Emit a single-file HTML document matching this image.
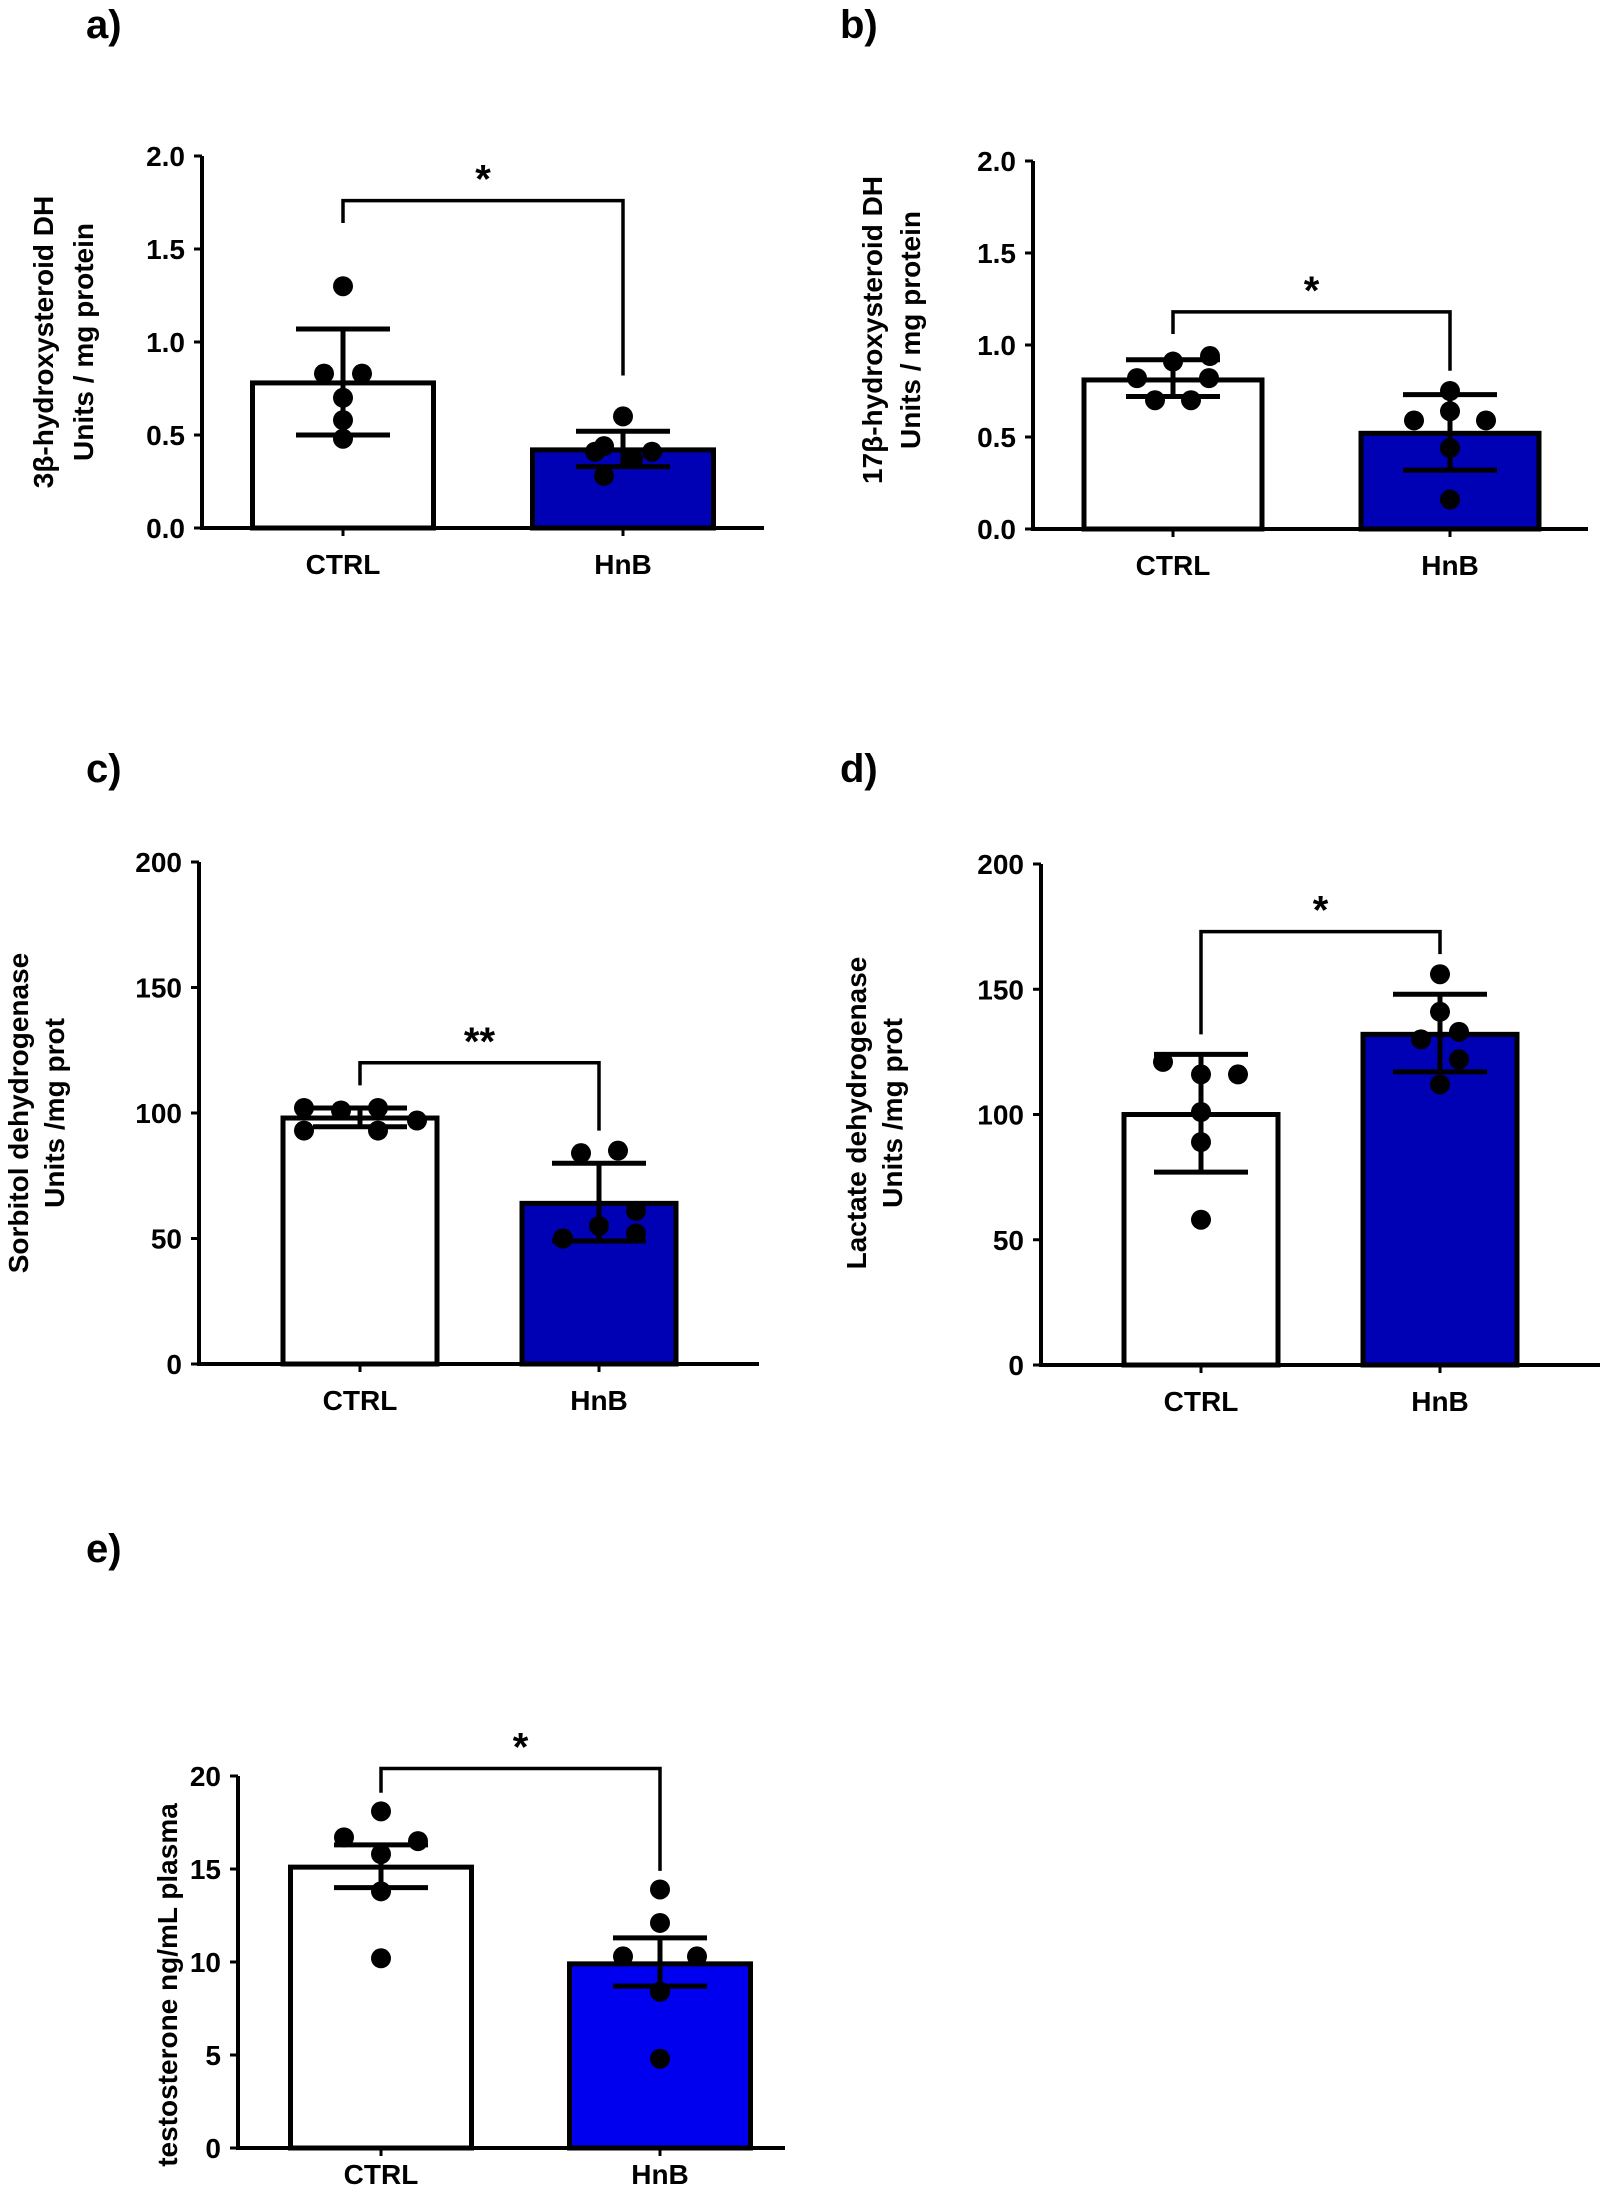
<!DOCTYPE html>
<html><head><meta charset="utf-8"><style>
html,body{margin:0;padding:0;background:#fff;}
svg{display:block;font-family:"Liberation Sans",Arial,sans-serif;font-weight:bold;}
</style></head><body>
<svg id="fig" width="1600" height="2191" viewBox="0 0 1600 2191" xmlns="http://www.w3.org/2000/svg"></svg>
<script>
// ---- data ----
const categories = ["CTRL", "HnB"];
const aMeans = [0.78, 0.42];
const aErrLo = [0.50, 0.33];
const aErrHi = [1.07, 0.52];
const aCtrlPts = [1.30, 0.83, 0.83, 0.70, 0.58, 0.48];
const aHnbPts = [0.60, 0.44, 0.41, 0.41, 0.37, 0.28];
const aTicks = ["0.0", "0.5", "1.0", "1.5", "2.0"];
const aBracket = [1.76, 1.64, 0.82];

const bMeans = [0.81, 0.52];
const bErrLo = [0.72, 0.32];
const bErrHi = [0.92, 0.73];
const bCtrlPts = [0.94, 0.91, 0.82, 0.82, 0.70, 0.70];
const bHnbPts = [0.75, 0.64, 0.59, 0.59, 0.44, 0.16];
const bTicks = ["0.0", "0.5", "1.0", "1.5", "2.0"];
const bBracket = [1.18, 1.06, 0.86];

const cMeans = [98, 64];
const cErrLo = [94.5, 49];
const cErrHi = [102, 80];
const cCtrlPts = [102, 101, 102, 97, 93, 93];
const cHnbPts = [84, 85, 61, 55, 52, 50];
const cTicks = ["0", "50", "100", "150", "200"];
const cBracket = [120, 111, 93];

const dMeans = [100, 132];
const dErrLo = [77, 117];
const dErrHi = [124, 148];
const dCtrlPts = [121, 116, 116, 101, 89, 58];
const dHnbPts = [156, 141, 133, 130, 122, 112];
const dTicks = ["0", "50", "100", "150", "200"];
const dBracket = [173, 132, 164];

const eMeans = [15.1, 9.9];
const eErrLo = [14.0, 8.7];
const eErrHi = [16.3, 11.3];
const eCtrlPts = [18.1, 16.7, 16.5, 15.8, 13.8, 10.2];
const eHnbPts = [13.9, 12.1, 10.3, 10.3, 8.4, 4.8];
const eTicks = ["0", "5", "10", "15", "20"];
const eBracket = [20.4, 19.1, 14.9];

// ---- layout (jitter offsets in px; not data) ----
const aCtrlJit = [0, -19, 19, 0, 0, 0], aHnbJit = [0, -19, -28, 29, 10, -19];
const bCtrlJit = [37, 0, -36, 36, -18, 18], bHnbJit = [0, 0, -36, 36, 0, 0];
const cCtrlJit = [-56, -19, 18, 57, -56, 18], cHnbJit = [-18, 19, 37, 0, 37, -36];
const dCtrlJit = [-38, 0, 37, 0, 0, 0], dHnbJit = [0, 0, 19, -19, 19, 0];
const eCtrlJit = [0, -37, 37, 0, 0, 0], eHnbJit = [0, 0, -37, 37, 0, 0];

const NS = "http://www.w3.org/2000/svg";
const svg = document.getElementById("fig");
function mk(tag, attrs, parent, text) {
  const el = document.createElementNS(NS, tag);
  for (const k in attrs) el.setAttribute(k, attrs[k]);
  if (text !== undefined) el.textContent = text;
  (parent || svg).appendChild(el);
  return el;
}

function panel(p) {
  const g = mk("g", {});
  
  
  const vmax = parseFloat(p.ticks[p.ticks.length - 1]);
  const y = v => p.y0 - (v / vmax) * (p.y0 - p.yTop);
  const lbl = mk("text", {x: p.labX, y: p.labY, "font-size": 40}, g, p.id + ")");
  
  
  // title lines (each centered at given x)
  p.title.forEach((line, i) => {
    const bx = p.titleXs[i] + 10;
    const tt = mk("text", {transform: `translate(${bx},${p.titleY}) rotate(-90)`, "text-anchor": "middle", "font-size": 28}, g, line);
    
    
  });
  // bars
  p.means.forEach((m, i) => {
    const cx = p.cx[i];
    const r = mk("rect", {x: cx - p.bw / 2, y: y(m), width: p.bw, height: p.y0 - y(m), fill: i === 0 ? "#fff" : p.blue, stroke: "#000", "stroke-width": 5}, g);
    
    
  });
  // points
  [p.ctrl, p.hnb].forEach((pts, i) => {
    const jit = i === 0 ? p.cj : p.hj;
    pts.forEach((v, k) => {
      const c = mk("circle", {cx: p.cx[i] + jit[k], cy: y(v), r: 10, fill: "#000"}, g);
      
      
    });
  });
  // error bars
  p.means.forEach((m, i) => {
    const cx = p.cx[i];
    const eb = mk("path", {d: `M${cx},${y(p.lo[i])}V${y(p.hi[i])}M${cx - 47},${y(p.lo[i])}H${cx + 47}M${cx - 47},${y(p.hi[i])}H${cx + 47}`, stroke: "#000", "stroke-width": 5, fill: "none"}, g);
    
    
  });
  // axes
  const ax = mk("path", {d: `M${p.axX},${p.yTop}V${p.y0}M${p.axX - 2},${p.y0}H${p.axR}`, stroke: "#000", "stroke-width": 4, fill: "none"}, g);
  
  
  p.ticks.forEach(t => {
    const ty = y(parseFloat(t));
    mk("path", {d: `M${p.axX - 8},${ty}H${p.axX}`, stroke: "#000", "stroke-width": 3}, g);
    const tl = mk("text", {x: p.axX - 17, y: ty + 10, "text-anchor": "end", "font-size": 28}, g, t);
    
    
  });
  categories.forEach((c, i) => {
    mk("path", {d: `M${p.cx[i]},${p.y0}V${p.y0 + 8}`, stroke: "#000", "stroke-width": 3}, g);
    const xl = mk("text", {x: p.cx[i], y: p.y0 + p.xlOff, "text-anchor": "middle", "font-size": 28}, g, c);
    
    
  });
  // bracket
  const [top, l, r] = p.br;
  const bk = mk("path", {d: `M${p.cx[0]},${y(l)}V${y(top)}H${p.cx[1]}V${y(r)}`, stroke: "#000", "stroke-width": 3.5, fill: "none"}, g);
  
  
  const st = mk("text", {x: (p.cx[0] + p.cx[1]) / 2, y: y(top) - 8, "text-anchor": "middle", "font-size": 40}, g, p.star);
  
  
}

panel({id: "a", means: aMeans, lo: aErrLo, hi: aErrHi, ctrl: aCtrlPts, hnb: aHnbPts, ticks: aTicks, br: aBracket, cj: aCtrlJit, hj: aHnbJit,
  star: "*", blue: "#0000b4", axX: 202, axR: 764, yTop: 156, y0: 528, cx: [343, 623], bw: 181, xlOff: 46,
  labX: 86, labY: 38, titleXs: [43, 83], titleY: 342, title: ["3β-hydroxysteroid DH", "Units / mg protein"]});
panel({id: "b", means: bMeans, lo: bErrLo, hi: bErrHi, ctrl: bCtrlPts, hnb: bHnbPts, ticks: bTicks, br: bBracket, cj: bCtrlJit, hj: bHnbJit,
  star: "*", blue: "#0000b4", axX: 1033, axR: 1588, yTop: 161, y0: 529, cx: [1173, 1450], bw: 178, xlOff: 46,
  labX: 840, labY: 38, titleXs: [872, 910], titleY: 330, title: ["17β-hydroxysteroid DH", "Units / mg protein"]});
panel({id: "c", means: cMeans, lo: cErrLo, hi: cErrHi, ctrl: cCtrlPts, hnb: cHnbPts, ticks: cTicks, br: cBracket, cj: cCtrlJit, hj: cHnbJit,
  star: "**", blue: "#0000b4", axX: 199, axR: 759, yTop: 862, y0: 1364, cx: [360, 599], bw: 154, xlOff: 46,
  labX: 86, labY: 782, titleXs: [18, 54], titleY: 1113, title: ["Sorbitol dehydrogenase", "Units /mg prot"]});
panel({id: "d", means: dMeans, lo: dErrLo, hi: dErrHi, ctrl: dCtrlPts, hnb: dHnbPts, ticks: dTicks, br: dBracket, cj: dCtrlJit, hj: dHnbJit,
  star: "*", blue: "#0000b4", axX: 1041, axR: 1600, yTop: 864, y0: 1365, cx: [1201, 1440], bw: 154, xlOff: 46,
  labX: 840, labY: 782, titleXs: [856, 892], titleY: 1113, title: ["Lactate dehydrogenase", "Units /mg prot"]});
panel({id: "e", means: eMeans, lo: eErrLo, hi: eErrHi, ctrl: eCtrlPts, hnb: eHnbPts, ticks: eTicks, br: eBracket, cj: eCtrlJit, hj: eHnbJit,
  star: "*", blue: "#0000ee", axX: 238, axR: 785, yTop: 1776, y0: 2148, cx: [381, 660], bw: 181, xlOff: 36,
  labX: 86, labY: 1562, titleXs: [167], titleY: 1985, title: ["testosterone ng/mL plasma"]});
</script>
</body></html>
